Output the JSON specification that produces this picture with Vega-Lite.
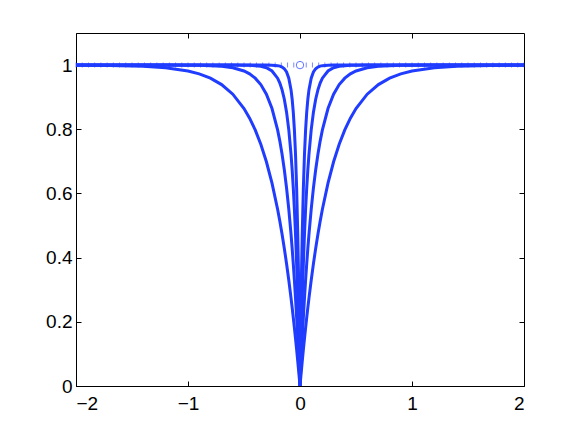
{
  "$schema": "https://vega.github.io/schema/vega-lite/v6.json",
  "width": 448,
  "height": 353,
  "autosize": "none",
  "padding": {"left": 76, "top": 33, "right": 55, "bottom": 49},
  "background": "white",
  "config": {
    "view": {"stroke": "black", "strokeWidth": 1},
    "axis": {
      "labelFont": "Liberation Sans",
      "labelColor": "black",
      "domainColor": "black",
      "tickColor": "black",
      "grid": false,
      "title": null
    }
  },
  "datasets": {
    "curves": [
      {"x": -2.0, "s1": 0.9997, "s2": 1, "s3": 1, "s4": 1},
      {"x": -1.7, "s1": 0.9989, "s2": 1, "s3": 1, "s4": 1},
      {"x": -1.4, "s1": 0.9963, "s2": 1, "s3": 1, "s4": 1},
      {"x": -1.2, "s1": 0.9918, "s2": 1, "s3": 1, "s4": 1},
      {"x": -1.0, "s1": 0.9817, "s2": 0.9997, "s3": 1, "s4": 1},
      {"x": -0.9, "s1": 0.9727, "s2": 0.9993, "s3": 1, "s4": 1},
      {"x": -0.8, "s1": 0.9592, "s2": 0.9983, "s3": 1, "s4": 1},
      {"x": -0.7, "s1": 0.9392, "s2": 0.9963, "s3": 1, "s4": 1},
      {"x": -0.6, "s1": 0.9093, "s2": 0.9918, "s3": 0.9999, "s4": 1},
      {"x": -0.5, "s1": 0.8647, "s2": 0.9817, "s3": 0.9997, "s4": 1},
      {"x": -0.45, "s1": 0.8347, "s2": 0.9727, "s3": 0.9993, "s4": 1},
      {"x": -0.4, "s1": 0.7981, "s2": 0.9592, "s3": 0.9983, "s4": 1},
      {"x": -0.35, "s1": 0.7534, "s2": 0.9392, "s3": 0.9963, "s4": 1},
      {"x": -0.3, "s1": 0.6988, "s2": 0.9093, "s3": 0.9918, "s4": 0.9999},
      {"x": -0.25, "s1": 0.6321, "s2": 0.8647, "s3": 0.9817, "s4": 0.9997},
      {"x": -0.2, "s1": 0.5507, "s2": 0.7981, "s3": 0.9592, "s4": 0.9983},
      {"x": -0.18, "s1": 0.5132, "s2": 0.7631, "s3": 0.9439, "s4": 0.9968},
      {"x": -0.16, "s1": 0.4727, "s2": 0.722, "s3": 0.9227, "s4": 0.994},
      {"x": -0.14, "s1": 0.4288, "s2": 0.6737, "s3": 0.8935, "s4": 0.9887},
      {"x": -0.12, "s1": 0.3812, "s2": 0.6171, "s3": 0.8534, "s4": 0.9785},
      {"x": -0.1, "s1": 0.3297, "s2": 0.5507, "s3": 0.7981, "s4": 0.9592},
      {"x": -0.08, "s1": 0.2739, "s2": 0.4727, "s3": 0.722, "s4": 0.9227},
      {"x": -0.07, "s1": 0.2442, "s2": 0.4288, "s3": 0.6737, "s4": 0.8935},
      {"x": -0.06, "s1": 0.2134, "s2": 0.3812, "s3": 0.6171, "s4": 0.8534},
      {"x": -0.05, "s1": 0.1813, "s2": 0.3297, "s3": 0.5507, "s4": 0.7981},
      {"x": -0.04, "s1": 0.1479, "s2": 0.2739, "s3": 0.4727, "s4": 0.722},
      {"x": -0.03, "s1": 0.1131, "s2": 0.2134, "s3": 0.3812, "s4": 0.6171},
      {"x": -0.02, "s1": 0.0769, "s2": 0.1479, "s3": 0.2739, "s4": 0.4727},
      {"x": -0.015, "s1": 0.0582, "s2": 0.1131, "s3": 0.2134, "s4": 0.3812},
      {"x": -0.01, "s1": 0.0392, "s2": 0.0769, "s3": 0.1479, "s4": 0.2739},
      {"x": -0.005, "s1": 0.0198, "s2": 0.0392, "s3": 0.0769, "s4": 0.1479},
      {"x": 0, "s1": 0, "s2": 0, "s3": 0, "s4": 0},
      {"x": 0.005, "s1": 0.0198, "s2": 0.0392, "s3": 0.0769, "s4": 0.1479},
      {"x": 0.01, "s1": 0.0392, "s2": 0.0769, "s3": 0.1479, "s4": 0.2739},
      {"x": 0.015, "s1": 0.0582, "s2": 0.1131, "s3": 0.2134, "s4": 0.3812},
      {"x": 0.02, "s1": 0.0769, "s2": 0.1479, "s3": 0.2739, "s4": 0.4727},
      {"x": 0.03, "s1": 0.1131, "s2": 0.2134, "s3": 0.3812, "s4": 0.6171},
      {"x": 0.04, "s1": 0.1479, "s2": 0.2739, "s3": 0.4727, "s4": 0.722},
      {"x": 0.05, "s1": 0.1813, "s2": 0.3297, "s3": 0.5507, "s4": 0.7981},
      {"x": 0.06, "s1": 0.2134, "s2": 0.3812, "s3": 0.6171, "s4": 0.8534},
      {"x": 0.07, "s1": 0.2442, "s2": 0.4288, "s3": 0.6737, "s4": 0.8935},
      {"x": 0.08, "s1": 0.2739, "s2": 0.4727, "s3": 0.722, "s4": 0.9227},
      {"x": 0.1, "s1": 0.3297, "s2": 0.5507, "s3": 0.7981, "s4": 0.9592},
      {"x": 0.12, "s1": 0.3812, "s2": 0.6171, "s3": 0.8534, "s4": 0.9785},
      {"x": 0.14, "s1": 0.4288, "s2": 0.6737, "s3": 0.8935, "s4": 0.9887},
      {"x": 0.16, "s1": 0.4727, "s2": 0.722, "s3": 0.9227, "s4": 0.994},
      {"x": 0.18, "s1": 0.5132, "s2": 0.7631, "s3": 0.9439, "s4": 0.9968},
      {"x": 0.2, "s1": 0.5507, "s2": 0.7981, "s3": 0.9592, "s4": 0.9983},
      {"x": 0.25, "s1": 0.6321, "s2": 0.8647, "s3": 0.9817, "s4": 0.9997},
      {"x": 0.3, "s1": 0.6988, "s2": 0.9093, "s3": 0.9918, "s4": 0.9999},
      {"x": 0.35, "s1": 0.7534, "s2": 0.9392, "s3": 0.9963, "s4": 1},
      {"x": 0.4, "s1": 0.7981, "s2": 0.9592, "s3": 0.9983, "s4": 1},
      {"x": 0.45, "s1": 0.8347, "s2": 0.9727, "s3": 0.9993, "s4": 1},
      {"x": 0.5, "s1": 0.8647, "s2": 0.9817, "s3": 0.9997, "s4": 1},
      {"x": 0.6, "s1": 0.9093, "s2": 0.9918, "s3": 0.9999, "s4": 1},
      {"x": 0.7, "s1": 0.9392, "s2": 0.9963, "s3": 1, "s4": 1},
      {"x": 0.8, "s1": 0.9592, "s2": 0.9983, "s3": 1, "s4": 1},
      {"x": 0.9, "s1": 0.9727, "s2": 0.9993, "s3": 1, "s4": 1},
      {"x": 1.0, "s1": 0.9817, "s2": 0.9997, "s3": 1, "s4": 1},
      {"x": 1.2, "s1": 0.9918, "s2": 1, "s3": 1, "s4": 1},
      {"x": 1.4, "s1": 0.9963, "s2": 1, "s3": 1, "s4": 1},
      {"x": 1.7, "s1": 0.9989, "s2": 1, "s3": 1, "s4": 1},
      {"x": 2.0, "s1": 0.9997, "s2": 1, "s3": 1, "s4": 1}
    ],
    "dots": [
      {"x": -2, "y": 1}, {"x": -1.9444, "y": 1}, {"x": -1.8889, "y": 1}, {"x": -1.8333, "y": 1},
      {"x": -1.7778, "y": 1}, {"x": -1.7222, "y": 1}, {"x": -1.6667, "y": 1}, {"x": -1.6111, "y": 1},
      {"x": -1.5556, "y": 1}, {"x": -1.5, "y": 1}, {"x": -1.4444, "y": 1}, {"x": -1.3889, "y": 1},
      {"x": -1.3333, "y": 1}, {"x": -1.2778, "y": 1}, {"x": -1.2222, "y": 1}, {"x": -1.1667, "y": 1},
      {"x": -1.1111, "y": 1}, {"x": -1.0556, "y": 1}, {"x": -1, "y": 1}, {"x": -0.9444, "y": 1},
      {"x": -0.8889, "y": 1}, {"x": -0.8333, "y": 1}, {"x": -0.7778, "y": 1}, {"x": -0.7222, "y": 1},
      {"x": -0.6667, "y": 1}, {"x": -0.6111, "y": 1}, {"x": -0.5556, "y": 1}, {"x": -0.5, "y": 1},
      {"x": -0.4444, "y": 1}, {"x": -0.3889, "y": 1}, {"x": -0.3333, "y": 1}, {"x": -0.2778, "y": 1},
      {"x": -0.2222, "y": 1}, {"x": -0.1667, "y": 1}, {"x": -0.1111, "y": 1}, {"x": -0.0556, "y": 1},
      {"x": 0.0556, "y": 1}, {"x": 0.1111, "y": 1}, {"x": 0.1667, "y": 1}, {"x": 0.2222, "y": 1},
      {"x": 0.2778, "y": 1}, {"x": 0.3333, "y": 1}, {"x": 0.3889, "y": 1}, {"x": 0.4444, "y": 1},
      {"x": 0.5, "y": 1}, {"x": 0.5556, "y": 1}, {"x": 0.6111, "y": 1}, {"x": 0.6667, "y": 1},
      {"x": 0.7222, "y": 1}, {"x": 0.7778, "y": 1}, {"x": 0.8333, "y": 1}, {"x": 0.8889, "y": 1},
      {"x": 0.9444, "y": 1}, {"x": 1, "y": 1}, {"x": 1.0556, "y": 1}, {"x": 1.1111, "y": 1},
      {"x": 1.1667, "y": 1}, {"x": 1.2222, "y": 1}, {"x": 1.2778, "y": 1}, {"x": 1.3333, "y": 1},
      {"x": 1.3889, "y": 1}, {"x": 1.4444, "y": 1}, {"x": 1.5, "y": 1}, {"x": 1.5556, "y": 1},
      {"x": 1.6111, "y": 1}, {"x": 1.6667, "y": 1}, {"x": 1.7222, "y": 1}, {"x": 1.7778, "y": 1},
      {"x": 1.8333, "y": 1}, {"x": 1.8889, "y": 1}, {"x": 1.9444, "y": 1}, {"x": 2, "y": 1}
    ],
    "origin": [{"x": 0, "y": 1}]
  },
  "layer": [
    {
      "data": {"name": "curves"},
      "transform": [{"fold": ["s1", "s2", "s3", "s4"], "as": ["series", "y"]}],
      "mark": {"type": "line", "color": "#1f3cff", "strokeWidth": 3, "clip": true},
      "encoding": {
        "x": {
          "field": "x", "type": "quantitative",
          "scale": {"domain": [-2, 2], "nice": false, "zero": false},
          "axis": {"orient": "bottom", "values": [-2, -1, 0, 1, 2], "tickSize": -5, "labelPadding": 13, "format": "~g", "labelFontSize": 19}
        },
        "y": {
          "field": "y", "type": "quantitative",
          "scale": {"domain": [0, 1.1], "nice": false, "zero": false},
          "axis": {"orient": "left", "values": [0, 0.2, 0.4, 0.6, 0.8, 1], "tickSize": -5, "labelPadding": 9, "format": "~g", "labelFontSize": 19}
        },
        "detail": {"field": "series"}
      }
    },
    {
      "data": {"name": "dots"},
      "mark": {"type": "tick", "orient": "vertical", "color": "#1f3cff", "opacity": 0.6, "size": 5, "thickness": 1},
      "encoding": {
        "x": {"field": "x", "type": "quantitative", "axis": {"orient": "top", "values": [-1, 0, 1], "tickSize": -5, "labels": false, "domain": false}},
        "y": {"field": "y", "type": "quantitative", "axis": {"orient": "right", "values": [0.2, 0.4, 0.6, 0.8, 1], "tickSize": -5, "labels": false, "domain": false}}
      }
    },
    {
      "data": {"name": "origin"},
      "mark": {"type": "point", "shape": "circle", "filled": false, "color": "#1f3cff", "size": 55, "strokeWidth": 1},
      "encoding": {
        "x": {"field": "x", "type": "quantitative", "axis": null},
        "y": {"field": "y", "type": "quantitative", "axis": null}
      }
    }
  ],
  "resolve": {"axis": {"x": "independent", "y": "independent"}}
}
